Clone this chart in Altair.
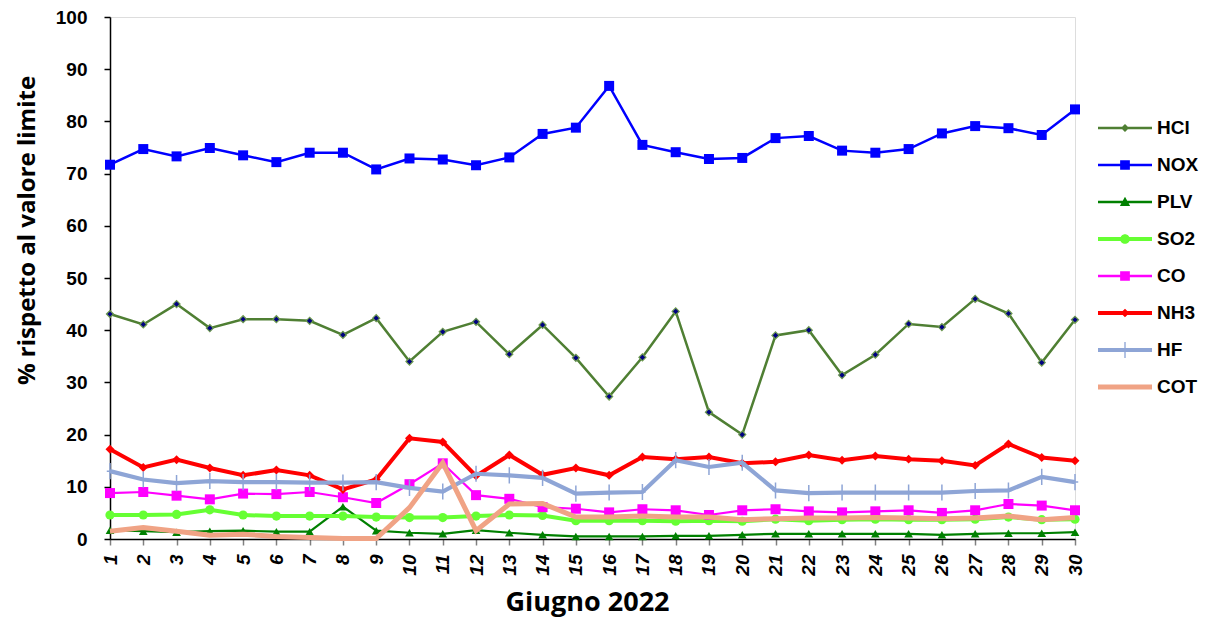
import altair as alt
import pandas as pd

days = list(range(1, 31))

series_names = ["HCl", "NOX", "PLV", "SO2", "CO", "NH3", "HF", "COT"]

hcl = [43.1, 41.1, 45.0, 40.4, 42.1, 42.1, 41.8, 39.1, 42.3, 34.0, 39.7, 41.6, 35.4, 41.0, 34.7,
       27.3, 34.8, 43.6, 24.3, 20.0, 39.0, 40.0, 31.4, 35.3, 41.2, 40.6, 46.0, 43.2, 33.8, 42.0]
nox = [71.7, 74.7, 73.3, 74.9, 73.5, 72.2, 74.0, 74.0, 70.8, 72.9, 72.7, 71.6, 73.1, 77.6, 78.8,
       86.8, 75.5, 74.1, 72.8, 73.0, 76.8, 77.2, 74.4, 74.0, 74.7, 77.7, 79.1, 78.7, 77.4, 82.3]
plv = [1.7, 1.5, 1.3, 1.5, 1.6, 1.4, 1.4, 6.2, 1.6, 1.2, 1.0, 1.7, 1.2, 0.8, 0.5,
       0.5, 0.5, 0.6, 0.6, 0.8, 1.0, 1.0, 1.0, 1.0, 1.0, 0.8, 1.0, 1.1, 1.1, 1.3]
so2 = [4.6, 4.6, 4.7, 5.6, 4.6, 4.4, 4.4, 4.4, 4.2, 4.1, 4.1, 4.4, 4.6, 4.5, 3.5,
       3.5, 3.5, 3.4, 3.5, 3.4, 3.8, 3.5, 3.7, 3.8, 3.7, 3.7, 3.8, 4.2, 3.7, 3.8]
co = [8.8, 9.0, 8.3, 7.6, 8.7, 8.6, 9.0, 8.0, 6.9, 10.5, 14.5, 8.4, 7.7, 6.1, 5.8,
      5.1, 5.7, 5.5, 4.6, 5.5, 5.7, 5.3, 5.1, 5.3, 5.5, 5.0, 5.5, 6.7, 6.4, 5.5]
nh3 = [17.2, 13.7, 15.2, 13.6, 12.2, 13.2, 12.2, 9.5, 11.4, 19.3, 18.6, 12.1, 16.1, 12.3, 13.6,
       12.2, 15.7, 15.3, 15.7, 14.5, 14.8, 16.1, 15.1, 15.9, 15.3, 15.0, 14.1, 18.2, 15.6, 15.0]
hf = [13.0, 11.4, 10.7, 11.1, 10.9, 10.9, 10.8, 10.8, 10.9, 9.8, 9.1, 12.5, 12.2, 11.7, 8.7,
      8.9, 9.0, 15.1, 13.8, 14.6, 9.3, 8.8, 8.9, 8.9, 8.9, 8.9, 9.2, 9.3, 11.9, 10.9]
cot = [1.5, 2.2, 1.5, 0.7, 0.9, 0.5, 0.3, 0.1, 0.1, 6.0, 14.6, 1.6, 6.7, 6.8, 4.2,
       4.2, 4.4, 4.2, 4.2, 3.7, 3.9, 4.0, 4.0, 4.1, 4.0, 3.9, 4.0, 4.4, 3.7, 4.1]

values = {"HCl": hcl, "NOX": nox, "PLV": plv, "SO2": so2, "CO": co, "NH3": nh3, "HF": hf, "COT": cot}

colors = {"HCl": "#4F7F33", "NOX": "#0000FF", "PLV": "#008000", "SO2": "#66FF33",
          "CO": "#FF00FF", "NH3": "#FF0000", "HF": "#8EA5D6", "COT": "#F0A385"}
line_w = {"HCl": 2.5, "NOX": 2.5, "PLV": 2.2, "SO2": 4, "CO": 2.2, "NH3": 4, "HF": 4.2, "COT": 5}

# legend glyph paths (line + marker), unit box [-1,1]
thin = "M-1,-0.045H1V0.045H-1Z"
thick = "M-1,-0.075H1V0.075H-1Z"
thicker = "M-1,-0.09H1V0.09H-1Z"
legend_paths = {
    "HCl": thin + "M0,-0.15L0.15,0L0,0.15L-0.15,0Z",
    "NOX": thin + "M-0.18,-0.18H0.18V0.18H-0.18Z",
    "PLV": thin + "M0,-0.19L0.19,0.15L-0.19,0.15Z",
    "SO2": thick + "M-0.18,0A0.18,0.18,0,1,1,0.18,0A0.18,0.18,0,1,1,-0.18,0Z",
    "CO": thin + "M-0.18,-0.18H0.18V0.18H-0.18Z",
    "NH3": thick + "M0,-0.16L0.16,0L0,0.16L-0.16,0Z",
    "HF": thick + "M-0.025,-0.3H0.025V0.3H-0.025Z",
    "COT": thicker,
}

rows = []
for name in series_names:
    for d, v in zip(days, values[name]):
        rows.append({"day": d, "series": name, "value": v})
df = pd.DataFrame(rows)

x_enc = alt.X("day:Q", scale=alt.Scale(domain=[1, 30], nice=False, zero=False),
              axis=alt.Axis(values=days, title="Giugno 2022", labelAngle=270,
                            labelFontStyle="italic", labelFontWeight="bold", labelFontSize=19,
                            labelFont="Liberation Sans", labelColor="black",
                            labelAlign="right", labelBaseline="middle", labelPadding=9,
                            tickColor="#808080", tickSize=6, tickWidth=1.5,
                            domainColor="black", domainWidth=1.5, grid=False,
                            titleFont="Open Sans", titleFontSize=27, titleFontWeight="bold",
                            titleColor="black", titlePadding=14, titleX=477))
y_enc = alt.Y("value:Q", scale=alt.Scale(domain=[0, 100], nice=False),
              axis=alt.Axis(values=list(range(0, 101, 10)), title="% rispetto al valore limite",
                            labelFontWeight="bold", labelFontSize=19, labelFont="Liberation Sans",
                            labelColor="black", labelPadding=17,
                            tickColor="black", tickSize=6, tickWidth=1.5,
                            domainColor="black", domainWidth=1.5, grid=False,
                            titleFont="Open Sans", titleFontSize=24, titleFontWeight="bold",
                            titleColor="black", titleX=-71, titleY=213))

markers = {
    "HCl": dict(shape="diamond", filled=True, fill="#000080", stroke="#6E9A50", strokeWidth=1.2, size=50),
    "NOX": dict(shape="square", filled=True, fill="#0000FF", stroke="#0000FF", strokeWidth=0, size=100),
    "PLV": dict(shape="triangle-up", filled=True, fill="#008000", stroke="#008000", strokeWidth=0, size=75),
    "SO2": dict(shape="circle", filled=True, fill="#66FF33", stroke="#66FF33", strokeWidth=0, size=85),
    "CO": dict(shape="square", filled=True, fill="#FF00FF", stroke="#FF00FF", strokeWidth=0, size=100),
    "NH3": dict(shape="diamond", filled=True, fill="#FF0000", stroke="#FF0000", strokeWidth=0, size=80),
    "HF": dict(shape="M0,-1V1M-0.4,0H0.4", filled=False, stroke="#8EA5D6", strokeWidth=1.5, size=260),
}

base = alt.Chart(df)
layers = []
for name in series_names:
    sub = base.transform_filter(alt.datum.series == name)
    layers.append(sub.mark_line(color=colors[name], strokeWidth=line_w[name]).encode(x=x_enc, y=y_enc))
    if name in markers:
        layers.append(sub.mark_point(opacity=1, **markers[name]).encode(x=x_enc, y=y_enc))

legend_def = alt.Legend(title=None, orient="none", legendX=988, legendY=84,
                        labelFont="Liberation Sans", labelFontSize=19, labelFontWeight="bold",
                        labelColor="black", labelOffset=5, symbolSize=2916,
                        symbolStrokeWidth=0, rowPadding=-0.5, padding=0)
legend_layer = base.transform_filter("false").mark_point(filled=True, opacity=1).encode(
    x=x_enc, y=y_enc,
    color=alt.Color("series:N", scale=alt.Scale(domain=series_names,
                                                range=[colors[n] for n in series_names]),
                    legend=legend_def),
    shape=alt.Shape("series:N", scale=alt.Scale(domain=series_names,
                                                range=[legend_paths[n] for n in series_names]),
                    legend=legend_def),
)
layers.append(legend_layer)

chart = alt.layer(*layers).properties(
    width=965, height=522,
    padding={"left": 7, "top": 0, "right": 0, "bottom": 4},
).configure_view(stroke="#808080", strokeWidth=1.5).configure(background="white")

chart.save("out.html", embed_options={"renderer": "svg", "actions": False})
